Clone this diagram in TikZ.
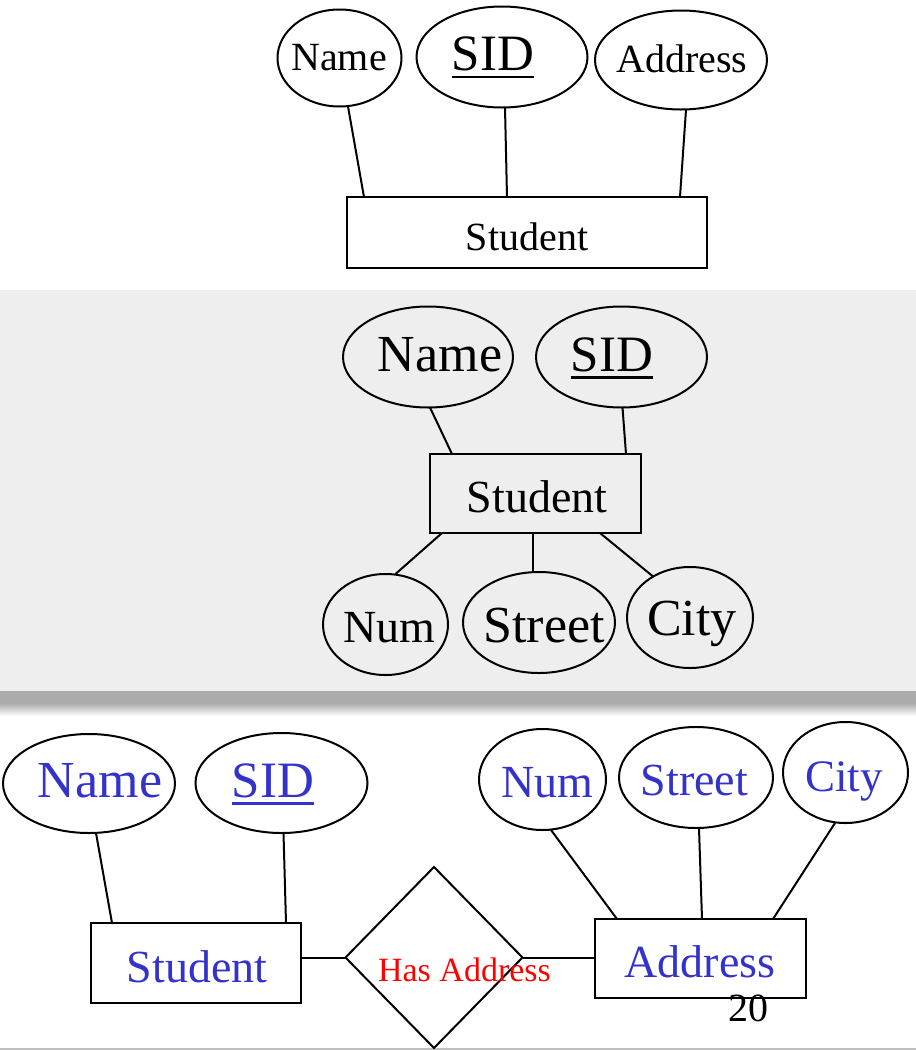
\documentclass[tikz,border=0pt]{standalone}
\usepackage{fontspec}
\setmainfont{Liberation Serif}
\usetikzlibrary{shapes.geometric}
\definecolor{erblue}{RGB}{51,51,204}
\definecolor{erred}{RGB}{255,0,0}
\definecolor{panel}{RGB}{238,238,238}
\definecolor{band}{RGB}{171,171,171}
\definecolor{edgeline}{RGB}{190,190,190}
\begin{document}
\begin{tikzpicture}[x=1pt,y=-1pt,
  attr/.style={draw,ellipse,inner sep=0pt,outer sep=0pt,line width=2pt},
  ent/.style={draw,rectangle,inner sep=0pt,outer sep=0pt,line width=2pt},
  rel/.style={draw,diamond,inner sep=0pt,outer sep=0pt,line width=2pt},
  lbl/.style={anchor=base,inner sep=0pt,outer sep=0pt},
  conn/.style={line width=2pt},
  fs/.style={font=\fontsize{#1}{#1}\selectfont},
  uln/.style={line width=2.6pt}]
\useasboundingbox (0,0) rectangle (916,1050);
\fill[white] (0,0) rectangle (916,1050);
% panel backgrounds
\fill[panel] (0,290) rectangle (916,691);
\fill[band] (0,691) rectangle (916,703);
\shade[top color=band,bottom color=white] (0,703) rectangle (916,716);
\draw[edgeline,line width=1.5pt] (0,1049) -- (916,1049);

% ===== top section =====
\node[attr,minimum width=124pt,minimum height=97pt] (nameT) at (339.5,58) {};
\node[attr,minimum width=171pt,minimum height=101pt] (sidT) at (502,57) {};
\node[attr,minimum width=172pt,minimum height=99pt] (addrT) at (681,60) {};
\node[ent,minimum width=360pt,minimum height=71pt] (stuT) at (527,232.5) {};
\node[lbl,fs=40] (tNameT) at (339,70) {Name};
\node[lbl,fs=51] (tSidT) at (493,70) {SID};
\node[lbl,fs=40] (tAddrT) at (682,72) {Address};
\node[lbl,fs=40] (tStuT) at (527,250) {Student};
\draw[uln] ([yshift=-7pt]tSidT.base west) -- ([yshift=-7pt]tSidT.base east);
\draw[conn] ([xshift=8.5pt]nameT.south) -- ([xshift=17pt]stuT.north west);
\draw[conn] ([xshift=3pt]sidT.south) -- ([xshift=160pt]stuT.north west);
\draw[conn] ([xshift=5pt]addrT.south) -- ([xshift=333pt]stuT.north west);

% ===== middle section =====
\node[attr,minimum width=170pt,minimum height=101pt] (nameM) at (428,357) {};
\node[attr,minimum width=171pt,minimum height=101pt] (sidM) at (621.5,357) {};
\node[ent,minimum width=211pt,minimum height=79pt] (stuM) at (535.5,493.5) {};
\node[attr,minimum width=125pt,minimum height=101pt] (numM) at (385.5,624.5) {};
\node[attr,minimum width=152pt,minimum height=101pt] (streetM) at (539,622.5) {};
\node[attr,minimum width=126pt,minimum height=101pt] (cityM) at (690,617.5) {};
\node[lbl,fs=52] (tNameM) at (440,371) {Name};
\node[lbl,fs=51] (tSidM) at (612,371) {SID};
\node[lbl,fs=46] (tStuM) at (537,512) {Student};
\node[lbl,fs=46] (tNumM) at (389,642) {Num};
\node[lbl,fs=52] (tStreetM) at (544,642) {Street};
\node[lbl,fs=52] (tCityM) at (692,635) {City};
\draw[uln] ([yshift=-6.5pt]tSidM.base west) -- ([yshift=-6.5pt]tSidM.base east);
\draw[conn] ([xshift=2pt]nameM.south) -- ([xshift=22pt]stuM.north west);
\draw[conn] ([xshift=1pt]sidM.south) -- ([xshift=196pt]stuM.north west);
\draw[conn] ([xshift=12pt]stuM.south west) -- ([xshift=10pt]numM.north);
\draw[conn] ([xshift=103pt]stuM.south west) -- ([xshift=-6pt]streetM.north);
\draw[conn] ([xshift=170pt]stuM.south west) -- (cityM.132);

% ===== bottom section =====
\node[attr,minimum width=172pt,minimum height=99pt] (nameB) at (89,783.5) {};
\node[attr,minimum width=172pt,minimum height=100pt] (sidB) at (281.5,783) {};
\node[ent,minimum width=210pt,minimum height=80pt] (stuB) at (196,963) {};
\node[rel,minimum width=177pt,minimum height=181pt] (hasB) at (434,957.5) {};
\node[ent,minimum width=211pt,minimum height=79pt] (addrB) at (700.5,958.5) {};
\node[attr,minimum width=127pt,minimum height=101pt] (numB) at (542.5,779.5) {};
\node[attr,minimum width=154pt,minimum height=101pt] (streetB) at (696,777.5) {};
\node[attr,minimum width=125pt,minimum height=101pt] (cityB) at (845.5,772.5) {};
\node[lbl,fs=52,text=erblue] (tNameB) at (100,797) {Name};
\node[lbl,fs=51,text=erblue] (tSidB) at (273,797) {SID};
\node[lbl,fs=46,text=erblue] (tStuB) at (197,982) {Student};
\node[lbl,fs=46,text=erblue] (tAddrB) at (700,977) {Address};
\node[lbl,fs=46,text=erblue] (tNumB) at (547,797) {Num};
\node[lbl,fs=46,text=erblue] (tStreetB) at (694.5,795) {Street};
\node[lbl,fs=45,text=erblue] (tCityB) at (844,791) {City};
\node[lbl,fs=34,text=erred] (tHasB) at (464.5,981) {Has Address};
\node[lbl,fs=40] (tPage) at (748,1021) {20};
\draw[uln,erblue] ([yshift=-6.5pt]tSidB.base west) -- ([yshift=-6.5pt]tSidB.base east);
\draw[conn] ([xshift=7pt]nameB.south) -- ([xshift=21pt]stuB.north west);
\draw[conn] ([xshift=2pt]sidB.south) -- ([xshift=195pt]stuB.north west);
\draw[conn] (stuB.east |- hasB.west) -- (hasB.west);
\draw[conn] (hasB.east) -- (addrB.west |- hasB.east);
\draw[conn] ([xshift=8.5pt]numB.south) -- ([xshift=22pt]addrB.north west);
\draw[conn] ([xshift=3pt]streetB.south) -- ([xshift=107pt]addrB.north west);
\draw[conn] ([xshift=-10.5pt]cityB.south) -- ([xshift=178pt]addrB.north west);
\end{tikzpicture}
\end{document}
